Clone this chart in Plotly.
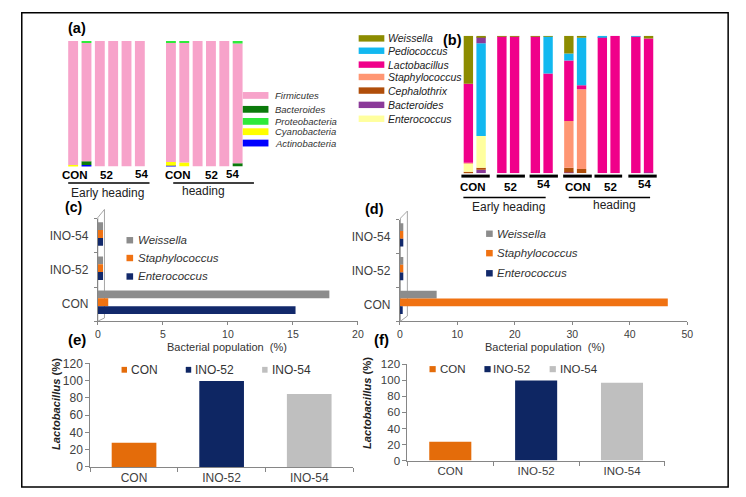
import numpy as np
import plotly.graph_objects as go

W, H = 746, 497
FONT = "Liberation Sans, Arial, sans-serif"

# ---------------- data ----------------
# Panel (a): phylum composition, 12 samples (2 stages x CON,CON,52,52,54,54)
a_phyla = ["Firmicutes", "Bacteroides", "Proteobacteria", "Cyanobacteria", "Actinobacteria"]
a_actino = [0, 1, 0, 0, 0, 0, 0.5, 0, 0, 0, 0, 0]
a_cyano = [1, 0, 0, 0, 0, 0, 3, 3, 0, 0, 0, 0]
a_bact = [0, 3, 0, 0, 0, 0, 0, 0, 0, 0, 0, 2.5]
a_firm = [99, 94.5, 100, 100, 100, 100, 95, 95.5, 100, 100, 100, 95.5]
a_proteo = [0, 1.5, 0, 0, 0, 0, 1.5, 1.5, 0, 0, 0, 2]

# Panel (b): genus composition
b_genera = ["Weissella", "Pediococcus", "Lactobacillus", "Staphylococcus",
            "Cephalothrix", "Bacteroides", "Enterococcus"]
b_bact = [0, 2.5, 0, 0, 0, 0, 0.5, 0, 0, 0, 0, 0.5]
b_ceph = [1, 1.5, 0, 0, 0, 0, 3.5, 3, 0, 0, 0, 0]
b_entero = [6, 23, 0, 0, 0, 0, 0, 0, 0, 0, 0, 0]
b_staph = [0.5, 0, 0, 0, 0, 0, 34, 58, 0, 0, 0, 0]
b_lacto = [57.5, 0, 99.5, 99.5, 99.5, 72.5, 44, 3, 99, 100, 99.5, 97.5]
b_pedio = [0, 67.5, 0, 0, 0, 27, 5, 34.5, 1, 0, 0.5, 0]
b_bact_top = [0, 4.5, 0, 0, 0, 0, 0, 0, 0, 0, 0, 0]
b_weiss = [35, 1, 0.5, 0.5, 0.5, 0.5, 13, 1.5, 0, 0, 0, 2]

sample_labels = ["CON", "52", "54"]
stage_labels = ["Early heading", "heading"]

# Panels (c), (d)
cd_categories = ["CON", "INO-52", "INO-54"]
cd_series = ["Weissella", "Staphylococcus", "Enterococcus"]
c_weiss = [17.8, 0.4, 0.4]
c_staph = [0.8, 0.4, 0.4]
c_entero = [15.2, 0.4, 0.4]
d_weiss = [6.4, 0.6, 0.6]
d_staph = [46.6, 0.6, 0.6]
d_entero = [0.5, 0.6, 0.6]
c_ticks = [0, 5, 10, 15, 20]
d_ticks = [0, 10, 20, 30, 40, 50]

# Panels (e), (f)
ef_categories = ["CON", "INO-52", "INO-54"]
e_lacto = [28, 99.5, 84.5]
f_lacto = [23.5, 100, 97]

# ---------------- helpers ----------------
def X(px):
    return px / W


def Y(py):
    return 1 - py / H


annotations = []
shapes = []


def ann(text, x, y, size=11, color="#333333", xanchor="center", yanchor="middle", angle=0):
    annotations.append(dict(text=text, x=X(x), y=Y(y), xref="paper", yref="paper",
                            showarrow=False, xanchor=xanchor, yanchor=yanchor,
                            textangle=angle, font=dict(family=FONT, size=size, color=color)))


def rect(x0, y0, x1, y1, fill, line=None, lw=0):
    shapes.append(dict(type="rect", xref="paper", yref="paper", x0=X(x0), x1=X(x1),
                       y0=Y(y0), y1=Y(y1), fillcolor=fill,
                       line=dict(color=line or fill, width=lw)))


def hline(x0, x1, y, w=1.5, color="black"):
    shapes.append(dict(type="line", xref="paper", yref="paper", x0=X(x0), x1=X(x1),
                       y0=Y(y), y1=Y(y), line=dict(color=color, width=w)))


def path(points, fill="white", line="#A6A6A6", lw=1):
    d = "M " + " L ".join(f"{X(px)},{Y(py)}" for px, py in points) + " Z"
    shapes.append(dict(type="path", xref="paper", yref="paper", path=d,
                       fillcolor=fill, line=dict(color=line, width=lw), layer="below"))


fig = go.Figure()

# ---------------- panel (a) ----------------
a_colors = {"Actinobacteria": "#0000FF", "Cyanobacteria": "#FFFF00", "Bacteroides": "#0B7A0B",
            "Firmicutes": "#F7A3CA", "Proteobacteria": "#2EEA3A"}
a_stack = [("Actinobacteria", a_actino), ("Cyanobacteria", a_cyano), ("Bacteroides", a_bact),
           ("Firmicutes", a_firm), ("Proteobacteria", a_proteo)]
a_pos = [g * 7.33 + i for g in range(2) for i in range(6)]
base = np.zeros(12)
for name, vals in a_stack:
    v = np.array(vals, dtype=float)
    fig.add_trace(go.Bar(x=a_pos, y=v, base=base.copy(), width=0.74, name=name,
                         marker=dict(color=a_colors[name], line=dict(width=0)),
                         xaxis="x", yaxis="y", showlegend=False))
    base += v

# ---------------- panel (b) ----------------
b_colors = {"Weissella": "#8C8C00", "Pediococcus": "#12B8F0", "Lactobacillus": "#F0008A",
            "Staphylococcus": "#FF9673", "Cephalothrix": "#B04E0A", "Bacteroides": "#8B3A99",
            "Enterococcus": "#FFFF9E"}
b_stack = [("Bacteroides", b_bact), ("Cephalothrix", b_ceph), ("Enterococcus", b_entero),
           ("Staphylococcus", b_staph), ("Lactobacillus", b_lacto), ("Pediococcus", b_pedio),
           ("Bacteroides", b_bact_top), ("Weissella", b_weiss)]
b_pos = [k + s * 0.19 for k in range(6) for s in (-1, 1)]
base = np.zeros(12)
for name, vals in b_stack:
    v = np.array(vals, dtype=float)
    fig.add_trace(go.Bar(x=b_pos, y=v, base=base.copy(), width=0.28, name=name,
                         marker=dict(color=b_colors[name], line=dict(width=0)),
                         xaxis="x2", yaxis="y2", showlegend=False))
    base += v

# ---------------- panels (c), (d) ----------------
cd_colors = {"Weissella": "#8C8C8C", "Staphylococcus": "#F07212", "Enterococcus": "#12296B"}
cd_offsets = {"Weissella": 0.17, "Staphylococcus": -0.06, "Enterococcus": -0.29}
for axn, series in (("3", (c_weiss, c_staph, c_entero)), ("4", (d_weiss, d_staph, d_entero))):
    for name, vals in zip(cd_series, series):
        fig.add_trace(go.Bar(y=cd_categories, x=vals, orientation="h", width=0.23,
                             offset=cd_offsets[name], name=name,
                             marker=dict(color=cd_colors[name], line=dict(width=0)),
                             xaxis="x" + axn, yaxis="y" + axn, showlegend=False))

# ---------------- panels (e), (f) ----------------
ef_colors = ["#E46C0A", "#0E2663", "#BFBFBF"]
fig.add_trace(go.Bar(x=ef_categories, y=e_lacto, width=0.51, offset=-0.255,
                     marker=dict(color=ef_colors, line=dict(width=0)),
                     xaxis="x5", yaxis="y5", showlegend=False))
fig.add_trace(go.Bar(x=ef_categories, y=f_lacto, width=0.49, offset=-0.245,
                     marker=dict(color=ef_colors, line=dict(width=0)),
                     xaxis="x6", yaxis="y6", showlegend=False))

# ---------------- decorations ----------------
# outer frame
rect(19, 6, 734, 494, "rgba(0,0,0,0)", "black", 1.5)

# panel labels
ann("<b>(a)</b>", 75, 22, 14.5, "black")
ann("<b>(b)</b>", 455, 34, 14.5, "black")
ann("<b>(c)</b>", 71, 206, 14, "black")
ann("<b>(d)</b>", 376, 208, 14.5, "black")
ann("<b>(e)</b>", 75, 342, 15, "black")
ann("<b>(f)</b>", 383, 342, 15, "black")

# panel (a) legend
a_leg_y = [91, 105.3, 117.7, 128.3, 140]
for name, yy in zip(a_phyla, a_leg_y):
    rect(242.7, yy - 3.5, 268.7, yy + 3.5, a_colors[name])
    ann(f"<i>{name}</i>", 273, yy, 9.5, "#333333", xanchor="left")

# panel (a) sample / stage labels
a_lab_x = [(73, 105, 140), (177, 210.7, 232)]
a_lab_y = (173, 173, 171.5)
for g in range(2):
    for lab, xx, yy in zip(sample_labels, a_lab_x[g], a_lab_y):
        ann(f"<b>{lab}</b>", xx, yy, 11.5, "black")
hline(66, 148.3, 181)
hline(172.3, 254, 181)
ann(stage_labels[0], 106, 191.5, 12, "#222222")
ann(stage_labels[1], 202.7, 189.5, 12, "#222222")

# panel (b) legend
b_leg_y = [32.3, 45, 59.3, 72, 86, 100.7, 115]
for name, yy in zip(b_genera, b_leg_y):
    rect(360, yy - 3.3, 386, yy + 3.3, b_colors[name])
    ann(f"<i>{name}</i>", 388, yy, 10.5, "#222222", xanchor="left")

# panel (b) underlines and labels
b_pair_lines = [(464, 492.7), (499.7, 528.3), (533, 561.7), (567, 596), (598.7, 626.7), (633, 661.7)]
for x0, x1 in b_pair_lines:
    hline(x0, x1, 174, 3)
b_lab_x = [(476, 514, 546.7), (581.7, 615, 649.3)]
b_lab_y = (185, 185, 182.5)
for g in range(2):
    for lab, xx, yy in zip(sample_labels, b_lab_x[g], b_lab_y):
        ann(f"<b>{lab}</b>", xx, yy, 11.5, "black")
hline(466, 549.3, 196)
hline(572.7, 655, 196)
ann(stage_labels[0], 511.7, 206, 12, "#222222")
ann(stage_labels[1], 619, 204, 12, "#222222")

# panels (c), (d): 3-D side walls
path([(96, 216.7), (102.7, 208.3), (102.7, 320), (96, 323.3)])
path([(402.3, 217.3), (409.3, 210), (409.3, 318), (402.3, 323.3)])

# legends (c), (d)
for lx, ys in ((125, (240, 258.3, 277.3)), (489, (233.3, 253.3, 274))):
    for name, yy in zip(cd_series, ys):
        rect(lx, yy - 3.3, lx + 6.7, yy + 3.3, cd_colors[name])
        ann(f"<i>{name}</i>", lx + 9.5, yy, 11.5, "#333333", xanchor="left")

ann("Bacterial population \u00a0(%)", 227, 350, 11, "#333333")
ann("Bacterial population \u00a0(%)", 548.3, 350, 11, "#333333")

# legends (e), (f)
e_leg = [(120, 127.3), (185, 192), (262.3, 270)]
for (sx, tx), lab, col in zip(e_leg, ef_categories, ef_colors):
    rect(sx, 370.3, sx + 5.5, 376.3, col)
    ann(lab, tx, 373.3, 12, "#333333", xanchor="left")
f_leg = [(431.7, 440), (487.3, 494.3), (553.3, 561.7)]
for (sx, tx), lab, col in zip(f_leg, ef_categories, ef_colors):
    rect(sx, 369.5, sx + 6.3, 375.8, col)
    ann(lab, tx, 372.7, 11.5, "#333333", xanchor="left")

ann("<b><i>Lactobacillus</i> (%)</b>", 54.3, 409, 11.2, "#222222", angle=-90)
ann("<b><i>Lactobacillus</i> (%)</b>", 368, 408, 11.2, "#222222", angle=-90)

# ---------------- layout ----------------
AX = "#868686"
TF = dict(family=FONT, size=10.5, color="#404040")

layout = dict(
    width=W, height=H, margin=dict(l=0, r=0, t=0, b=0),
    paper_bgcolor="white", plot_bgcolor="white",
    barmode="overlay", showlegend=False,
    annotations=annotations, shapes=shapes,
    font=dict(family=FONT),
    xaxis=dict(domain=[X(64.25), X(244.25)], range=[-0.5, 12.83], visible=False, anchor="y"),
    yaxis=dict(domain=[Y(164), Y(35)], range=[0, 100], visible=False, anchor="x"),
    xaxis2=dict(domain=[X(460), X(665)], range=[(460 - 477.5) / 33.9, (665 - 477.5) / 33.9],
                visible=False, anchor="y2"),
    yaxis2=dict(domain=[Y(171), Y(29.5)], range=[0, 100], visible=False, anchor="x2"),
    xaxis3=dict(domain=[X(96), X(359.3)], range=[0, 20], tickvals=c_ticks, showline=True,
                linecolor=AX, ticks="outside", ticklen=3, tickcolor=AX, tickfont=TF,
                showgrid=False, zeroline=False, anchor="y3"),
    yaxis3=dict(domain=[Y(323.3), Y(218)], type="category", categoryorder="array",
                categoryarray=cd_categories, range=[-0.5, 2.5], showline=True, linecolor=AX,
                ticks="outside", ticklen=3, tickcolor=AX, tickson="boundaries",
                tickfont=dict(family=FONT, size=12, color="#404040"), ticklabelstandoff=6,
                showgrid=False, zeroline=False, anchor="x3"),
    xaxis4=dict(domain=[X(401.7), X(692.7)], range=[0, 50], tickvals=d_ticks, showline=True,
                linecolor=AX, ticks="outside", ticklen=3, tickcolor=AX, tickfont=TF,
                showgrid=False, zeroline=False, anchor="y4"),
    yaxis4=dict(domain=[Y(323.3), Y(219)], type="category", categoryorder="array",
                categoryarray=cd_categories, range=[-0.5, 2.5], showline=True, linecolor=AX,
                ticks="outside", ticklen=3, tickcolor=AX, tickson="boundaries",
                tickfont=dict(family=FONT, size=12, color="#404040"), ticklabelstandoff=6,
                showgrid=False, zeroline=False, anchor="x4"),
    xaxis5=dict(domain=[X(88.3), X(354.3)], type="category", categoryorder="array",
                categoryarray=ef_categories, range=[-0.5, 2.5], showline=True, linecolor=AX,
                ticks="outside", ticklen=4, tickcolor=AX, tickson="boundaries",
                tickfont=dict(family=FONT, size=12, color="#404040"), showgrid=False, anchor="y5"),
    yaxis5=dict(domain=[Y(473.3), Y(366.7)], range=[0, 120], dtick=20, showline=True,
                linecolor=AX, ticks="outside", ticklen=4, tickcolor=AX,
                tickfont=dict(family=FONT, size=12, color="#404040"), showgrid=False,
                zeroline=False, anchor="x5"),
    xaxis6=dict(domain=[X(409.3), X(670)], type="category", categoryorder="array",
                categoryarray=ef_categories, range=[-0.5, 2.5], showline=True, linecolor=AX,
                ticks="outside", ticklen=4, tickcolor=AX, tickson="boundaries",
                tickfont=dict(family=FONT, size=11.5, color="#404040"), showgrid=False, anchor="y6"),
    yaxis6=dict(domain=[Y(466.7), Y(367.7)], range=[0, 120], dtick=20, showline=True,
                linecolor=AX, ticks="outside", ticklen=4, tickcolor=AX,
                tickfont=dict(family=FONT, size=11.5, color="#404040"), showgrid=False,
                zeroline=False, anchor="x6"),
)
fig.update_layout(**layout)
fig.write_html("out.html", config={"displayModeBar": False},
               post_script="document.body.style.margin='0px';document.body.style.overflow='hidden';")
